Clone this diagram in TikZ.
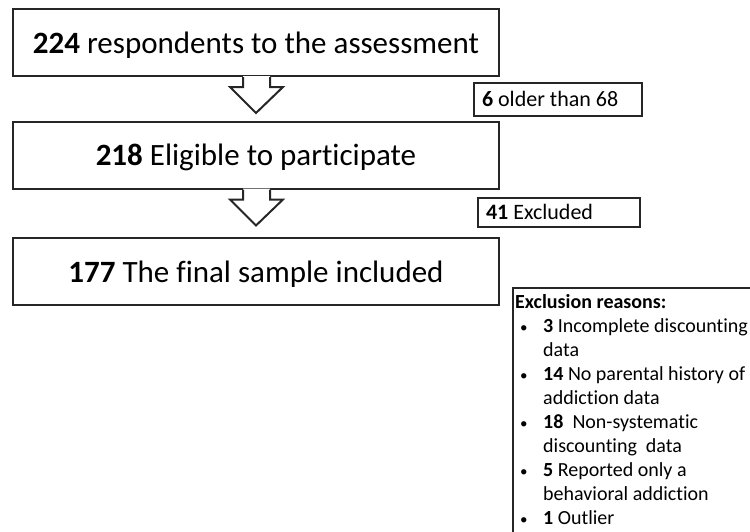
\documentclass[tikz,border=0pt]{standalone}
\usepackage{fontspec}
\setmainfont{Carlito}[Ligatures=NoCommon]
\usepackage{array}
\begin{document}
\begin{tikzpicture}[x=1pt,y=-1pt,
  mainbox/.style={draw=black!85, line width=2pt, fill=white, minimum width=486pt, minimum height=67pt, inner sep=0pt, text height=21pt, text depth=0pt, font=\fontsize{31}{37}\selectfont},
  sidebox/.style={draw=black!85, line width=2pt, fill=white, inner sep=0pt, text height=14pt, text depth=0pt, font=\fontsize{22}{26}\selectfont},
  reasonsbox/.style={draw=black!85, line width=2pt, fill=white, minimum width=260pt, minimum height=270pt, anchor=north west},
  reasonstext/.style={inner sep=0pt, anchor=north west, align=left, font=\fontsize{20}{24}\selectfont},
  blockarrow/.style={draw=black!85, line width=2pt, line join=miter}
]
\useasboundingbox (0,0) rectangle (750,531);
\clip (0,0) rectangle (750,531);
\fill[white] (0,0) rectangle (750,531);

\node[mainbox] (b1) at (256,42.5) {\textbf{224} respondents to the assessment};
\node[mainbox] (b2) at (256,155) {\textbf{218} Eligible to participate};
\node[mainbox] (b3) at (256,271.5) {\textbf{177} The final sample included};

\node[sidebox, minimum width=168pt, minimum height=33pt] (old) at (558,99.5) {\makebox[152pt][l]{\textbf{6} older than 68}};
\node[sidebox, minimum width=162pt, minimum height=29pt] (exc) at (559,212.5) {\makebox[146pt][l]{\textbf{41} Excluded}};

\node[reasonsbox] (rs) at (512,287) {};
\node[reasonstext] (rt) at (515,291) {%
\begin{tabular}{@{}p{28pt}@{}l@{}}
\multicolumn{2}{@{}l@{}}{\textbf{Exclusion reasons:}}\\
\hspace{5pt}{\fontsize{15}{15}\selectfont •}&\textbf{3} Incomplete discounting\\
&data\\
\hspace{5pt}{\fontsize{15}{15}\selectfont •}&\textbf{14} No parental history of\\
&addiction data\\
\hspace{5pt}{\fontsize{15}{15}\selectfont •}&\textbf{18}\ \ Non-systematic\\
&discounting\ \ data\\
\hspace{5pt}{\fontsize{15}{15}\selectfont •}&\textbf{5} Reported only a\\
&behavioral addiction\\
\hspace{5pt}{\fontsize{15}{15}\selectfont •}&\textbf{1} Outlier
\end{tabular}};

% block arrows
\coordinate (a1) at (b1.south);
\fill[white] ([xshift=-13pt,yshift=1pt]a1) -- ([xshift=-13pt,yshift=-10pt]a1) -- ([xshift=-26pt,yshift=-10pt]a1) -- ([yshift=-36pt]a1) -- ([xshift=27pt,yshift=-10pt]a1) -- ([xshift=14pt,yshift=-10pt]a1) -- ([xshift=14pt,yshift=1pt]a1) -- cycle;
\draw[blockarrow] ([xshift=-13pt]a1) -- ([xshift=-13pt,yshift=-10pt]a1) -- ([xshift=-26pt,yshift=-10pt]a1) -- ([yshift=-36pt]a1) -- ([xshift=27pt,yshift=-10pt]a1) -- ([xshift=14pt,yshift=-10pt]a1) -- ([xshift=14pt]a1);

\coordinate (a2) at (b2.south);
\fill[white] ([xshift=-13pt,yshift=1pt]a2) -- ([xshift=-13pt,yshift=-10pt]a2) -- ([xshift=-26pt,yshift=-10pt]a2) -- ([yshift=-36pt]a2) -- ([xshift=27pt,yshift=-10pt]a2) -- ([xshift=14pt,yshift=-10pt]a2) -- ([xshift=14pt,yshift=1pt]a2) -- cycle;
\draw[blockarrow] ([xshift=-13pt]a2) -- ([xshift=-13pt,yshift=-10pt]a2) -- ([xshift=-26pt,yshift=-10pt]a2) -- ([yshift=-36pt]a2) -- ([xshift=27pt,yshift=-10pt]a2) -- ([xshift=14pt,yshift=-10pt]a2) -- ([xshift=14pt]a2);
\end{tikzpicture}
\end{document}
